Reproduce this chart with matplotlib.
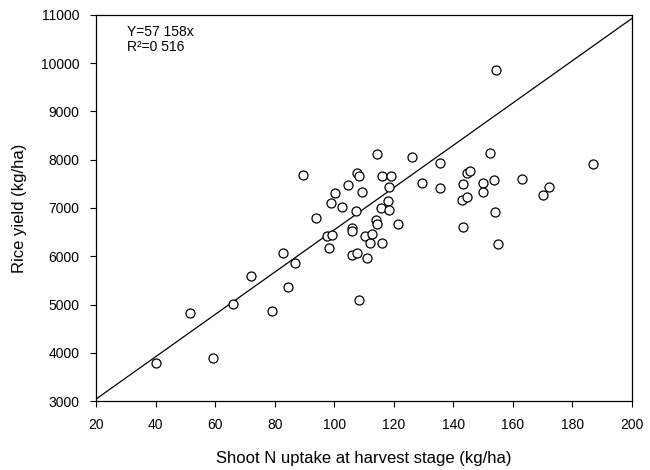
import matplotlib
matplotlib.use('Agg')
import matplotlib.pyplot as plt

plt.rcParams['font.family'] = ['Liberation Sans', 'DejaVu Sans']

# shoot N uptake (kg/ha) and rice yield (kg/ha)
n_uptake = [40.1, 51.7, 59.4, 66.1, 72.2, 79.1, 82.8, 84.6, 86.7, 89.6,
            93.8, 97.6, 99.2, 98.4, 99.0, 100.4, 102.5, 104.7, 105.9, 106.0,
            105.9, 107.5, 107.3, 107.5, 108.4, 108.4, 109.3, 110.3, 111.1, 112.0,
            112.6, 114.0, 114.2, 114.5, 115.6, 115.9, 116.0, 118.2, 118.4, 118.5,
            119.0, 121.5, 126.1, 129.4, 135.5, 135.5, 142.8, 143.1, 143.1, 144.7,
            144.7, 145.6, 149.8, 149.8, 152.3, 153.7, 154.0, 154.3, 155.1, 162.9,
            170.2, 172.2, 187.0]
rice_yield = [3780, 4820, 3900, 5020, 5590, 4860, 6075, 5360, 5855, 7685,
              6790, 6430, 6450, 6180, 7110, 7320, 7030, 7480, 6580, 6530,
              6020, 6060, 6940, 7725, 7660, 5095, 7325, 6430, 5965, 6275,
              6460, 6750, 6660, 8110, 7005, 6280, 7660, 7150, 7425, 6950,
              7665, 6665, 8065, 7525, 7935, 7415, 7160, 7505, 6600, 7715,
              7235, 7765, 7525, 7325, 8135, 7580, 6920, 9855, 6250, 7600,
              7270, 7440, 7905]

# fitted line as drawn in the figure
line_x = [20, 200]
line_y = [3040, 10930]

x_ticks = [20, 40, 60, 80, 100, 120, 140, 160, 180, 200]
y_ticks = [3000, 4000, 5000, 6000, 7000, 8000, 9000, 10000, 11000]

fig = plt.figure(figsize=(6.5, 4.7), dpi=100)
ax = fig.add_axes([0.1477, 0.1468, 0.8246, 0.8213])

ax.plot(line_x, line_y, color='black', linewidth=0.9)
ax.plot(n_uptake, rice_yield, linestyle='none', marker='o', markersize=6.5,
        markerfacecolor='white', markeredgecolor='black', markeredgewidth=0.9)

ax.set_xlim(20, 200)
ax.set_ylim(3000, 11000)
ax.set_xticks(x_ticks)
ax.set_yticks(y_ticks)
ax.tick_params(direction='out', length=4, width=0.8, labelsize=10, pad=8)
for sp in ax.spines.values():
    sp.set_linewidth(0.9)

ax.set_xlabel('Shoot N uptake at harvest stage (kg/ha)', fontsize=12, labelpad=14)
ax.set_ylabel('Rice yield (kg/ha)', fontsize=12, labelpad=10)

ax.text(0.058, 0.975, 'Y=57 158x', transform=ax.transAxes, fontsize=10, va='top')
ax.text(0.058, 0.935, 'R\u00b2=0 516', transform=ax.transAxes, fontsize=10, va='top')

fig.savefig('out.png', dpi=100)
